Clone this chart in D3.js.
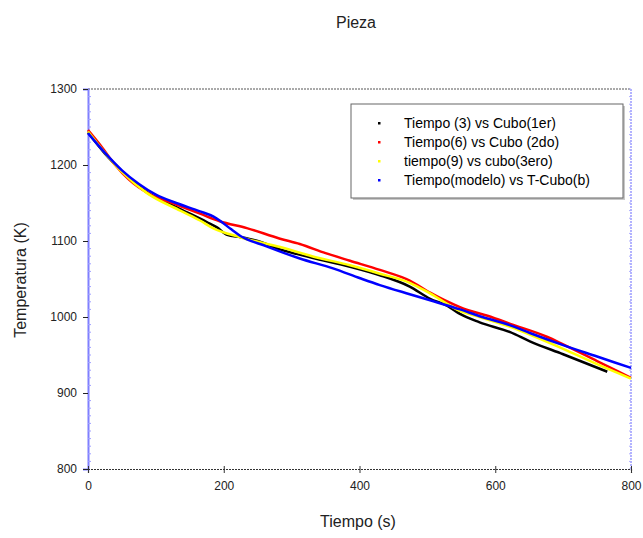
<!DOCTYPE html>
<html>
<head>
<meta charset="utf-8">
<script src="https://cdn.jsdelivr.net/npm/d3@7"></script>
<style>
  html, body { margin: 0; padding: 0; background: #ffffff; }
  svg { display: block; font-family: "Liberation Sans", Arial, sans-serif; }
</style>
</head>
<body>
<svg id="chart" width="643" height="538"></svg>
<script>
// Cooling curves of the piece: temperature (K) against time (s)
const seriesNames = [
  "Tiempo (3) vs Cubo(1er)",
  "Tiempo(6) vs Cubo (2do)",
  "tiempo(9) vs cubo(3ero)",
  "Tiempo(modelo) vs T-Cubo(b)"
];
const seriesColors = ["#000000", "#ff0000", "#ffff00", "#0000ff"];

const tiempo3 = [0, 25, 50, 87, 136, 175, 190, 205, 225, 250, 283, 330, 386, 430, 474, 504, 529, 548, 577, 622, 651, 700, 765];
const cubo1er = [1243, 1215, 1192, 1164, 1142, 1125, 1118, 1108, 1105, 1100, 1089, 1078, 1066, 1055, 1040, 1024, 1015, 1004, 993, 980, 968, 951, 928];

const tiempo6 = [0, 20, 40, 60, 90, 130, 165, 194, 234, 283, 312, 350, 386, 430, 474, 504, 548, 597, 622, 676, 700, 750, 800];
const cubo2do = [1246, 1224, 1200, 1181, 1162, 1148, 1136, 1126, 1117, 1103, 1096, 1084, 1074, 1062, 1048, 1032, 1013, 999, 991, 974, 964, 942, 920];

const tiempo9 = [0, 25, 50, 87, 136, 165, 184, 224, 283, 330, 386, 430, 474, 504, 548, 577, 622, 651, 700, 750, 800];
const cubo3ero = [1244, 1216, 1191, 1163, 1140, 1127, 1117, 1105, 1092, 1080, 1068, 1057, 1045, 1031, 1008, 1000, 987, 977, 958, 938, 919];

const tiempoModelo = [0, 25, 50, 75, 100, 130, 165, 185, 194, 210, 224, 263, 312, 361, 401, 430, 474, 504, 548, 577, 622, 651, 700, 750, 800];
const tCuboB = [1242, 1216, 1193, 1175, 1161, 1150, 1139, 1132, 1127, 1116, 1107, 1093, 1077, 1064, 1051, 1042, 1030, 1022, 1010, 1001, 989, 979, 963, 948, 933];

const xTicks = [0, 200, 400, 600, 800];
const yTicks = [800, 900, 1000, 1100, 1200, 1300];

const series = [
  { name: seriesNames[0], color: seriesColors[0], t: tiempo3, v: cubo1er },
  { name: seriesNames[1], color: seriesColors[1], t: tiempo6, v: cubo2do },
  { name: seriesNames[2], color: seriesColors[2], t: tiempo9, v: cubo3ero },
  { name: seriesNames[3], color: seriesColors[3], t: tiempoModelo, v: tCuboB }
];

const svg = d3.select("#chart");
const plotL = 88, plotT = 89, plotR = 631, plotB = 469;

const x = d3.scaleLinear().domain([0, 800]).range([plotL, plotR]);
const y = d3.scaleLinear().domain([800, 1300]).range([plotB, plotT]);

// Title
svg.append("text")
  .attr("x", 356).attr("y", 28)
  .attr("text-anchor", "middle")
  .attr("font-size", 16).attr("fill", "#222")
  .text("Pieza");

// Plot frame: dashed top edge, dotted right edge
svg.append("line")
  .attr("x1", plotL).attr("x2", plotR).attr("y1", plotT).attr("y2", plotT)
  .attr("stroke", "#555").attr("stroke-width", 1).attr("stroke-dasharray", "2,1");
svg.append("line")
  .attr("x1", plotR).attr("x2", plotR).attr("y1", plotT).attr("y2", plotB)
  .attr("stroke", "#9a9aff").attr("stroke-width", 1.5).attr("stroke-dasharray", "2,1");
// small inward ticks on the right edge
svg.append("g").selectAll("line")
  .data(d3.range(800, 1301, 10))
  .join("line")
  .attr("x1", plotR - 2).attr("x2", plotR)
  .attr("y1", d => y(d)).attr("y2", d => y(d))
  .attr("stroke", "#b0b0ff").attr("stroke-width", 1);

// Y axis
const yAxisG = svg.append("g").attr("transform", `translate(${plotL},0)`);
yAxisG.call(d3.axisLeft(y).tickValues(yTicks).tickSize(5).tickPadding(6).tickFormat(d3.format("d")));
yAxisG.select(".domain").attr("stroke", "#7f7fff").attr("stroke-width", 2);
yAxisG.selectAll(".tick line").attr("stroke", "#222");
yAxisG.selectAll(".tick text").attr("font-size", 12).attr("fill", "#222")
  .attr("font-family", "Liberation Sans, Arial, sans-serif");
// minor ticks inside the axis
svg.append("g").selectAll("line")
  .data(d3.range(800, 1301, 10).filter(d => d % 100 !== 0))
  .join("line")
  .attr("x1", plotL).attr("x2", plotL + 3)
  .attr("y1", d => y(d)).attr("y2", d => y(d))
  .attr("stroke", "#a0a0ff").attr("stroke-width", 1);

// X axis
const xAxisG = svg.append("g").attr("transform", `translate(0,${plotB})`);
xAxisG.call(d3.axisBottom(x).tickValues(xTicks).tickSize(4).tickPadding(8).tickFormat(d3.format("d")));
xAxisG.select(".domain").attr("stroke", "#333").attr("stroke-width", 1.2).attr("stroke-dasharray", "2,1");
xAxisG.selectAll(".tick line").attr("stroke", "#333").attr("y1", -3);
xAxisG.selectAll(".tick text").attr("font-size", 12).attr("fill", "#222")
  .attr("font-family", "Liberation Sans, Arial, sans-serif");

// Axis titles
svg.append("text")
  .attr("x", 358).attr("y", 527)
  .attr("text-anchor", "middle")
  .attr("font-size", 16).attr("fill", "#222")
  .text("Tiempo (s)");
svg.append("text")
  .attr("transform", "translate(26,280) rotate(-90)")
  .attr("text-anchor", "middle")
  .attr("font-size", 16).attr("fill", "#222")
  .text("Temperatura (K)");

// Curves
const line = d3.line()
  .x(d => x(d[0]))
  .y(d => y(d[1]))
  .curve(d3.curveMonotoneX);

svg.append("g").selectAll("path")
  .data(series)
  .join("path")
  .attr("d", s => line(s.t.map((t, i) => [t, s.v[i]])))
  .attr("fill", "none")
  .attr("stroke", s => s.color)
  .attr("stroke-width", 2.5)
  .attr("stroke-linejoin", "round");

// Legend
const lg = svg.append("g");
lg.append("rect")
  .attr("x", 353).attr("y", 106).attr("width", 272).attr("height", 94)
  .attr("fill", "#c8c8c8");
lg.append("rect")
  .attr("x", 351).attr("y", 104).attr("width", 272).attr("height", 94)
  .attr("fill", "#ffffff").attr("stroke", "#666").attr("stroke-width", 1);
const rows = lg.selectAll("g.row")
  .data(series)
  .join("g")
  .attr("class", "row")
  .attr("transform", (d, i) => `translate(0,${123 + i * 19})`);
rows.append("rect")
  .attr("x", 378).attr("y", -1).attr("width", 2.5).attr("height", 2.5)
  .attr("fill", d => d.color);
rows.append("text")
  .attr("x", 404).attr("y", 5)
  .attr("font-size", 14).attr("fill", "#000")
  .text(d => d.name);
</script>
</body>
</html>
